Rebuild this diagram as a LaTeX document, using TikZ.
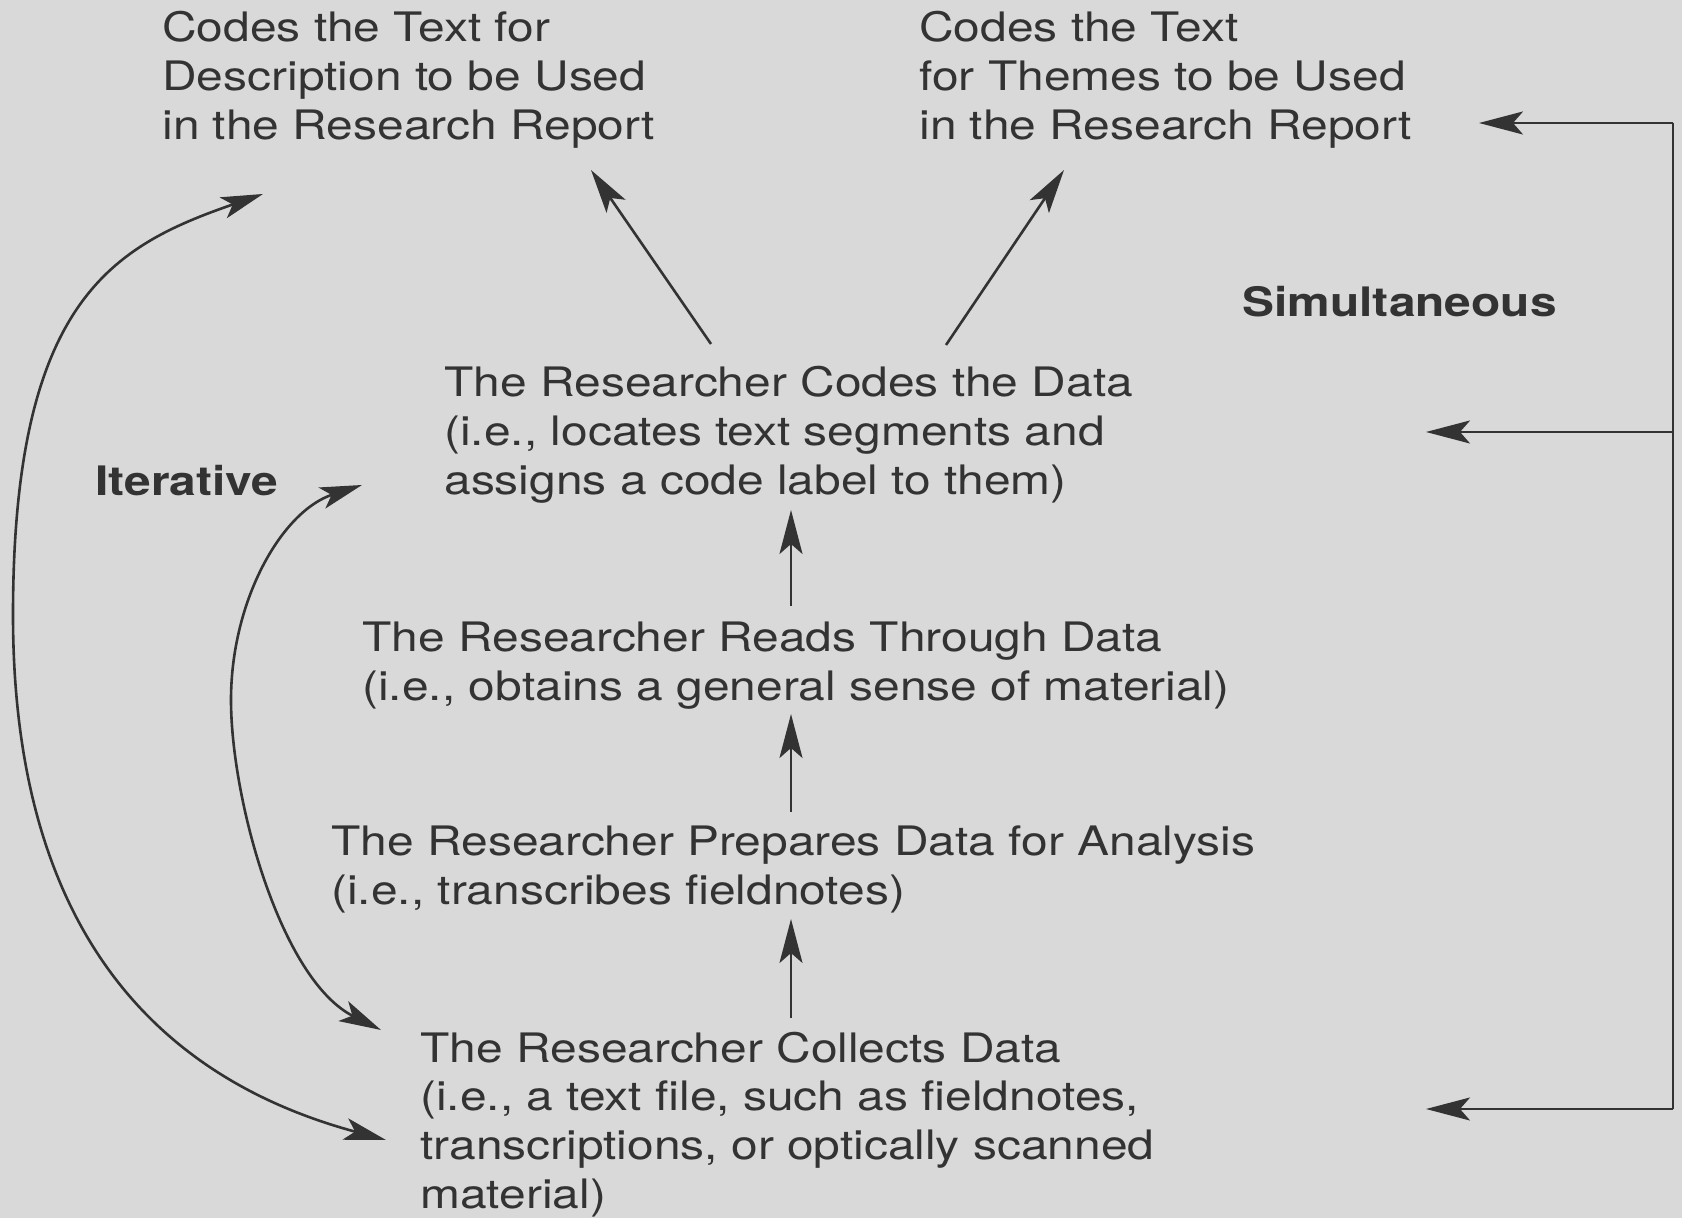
\documentclass[tikz,border=0pt]{standalone}
\usepackage{fontspec}
\setmainfont{TeX Gyre Heros}[FakeStretch=1.18]
\usetikzlibrary{arrows.meta}
\definecolor{bg}{HTML}{D9D9D9}
\definecolor{ink}{HTML}{333333}
\newcommand{\blk}[1]{\begin{tabular}[t]{@{}l@{}}#1\end{tabular}}
\begin{document}
\begin{tikzpicture}[x=0.5pt,y=-0.5pt,
  txt/.style={anchor=base west, inner sep=0pt, text=ink, font=\fontsize{20.3}{24.4}\selectfont},
  boldtxt/.style={txt, font=\fontsize{20.3}{24.4}\selectfont\bfseries},
  arr/.style={draw=ink, line width=1.3pt, -{Stealth[length=22pt,width=11.5pt,inset=5pt]}},
  darr/.style={draw=ink, line width=1.3pt, {Stealth[length=21pt,width=11pt,inset=5pt]}-{Stealth[length=21pt,width=11pt,inset=5pt]}},
  plain/.style={draw=ink, line width=1.3pt}]
\fill[bg] (0,0) rectangle (1682,1218);
\useasboundingbox (0,0) rectangle (1682,1218);

% text blocks
\node[txt] (tl) at (162,42) {\blk{Codes the Text for\\Description to be Used\\in the Research Report}};
\node[txt] (tr) at (919,42) {\blk{Codes the Text\\for Themes to be Used\\in the Research Report}};
\node[boldtxt] (sim) at (1242,317) {Simultaneous};
\node[boldtxt] (iter) at (95,496) {Iterative};
\node[txt] (codes) at (444,397) {\blk{The Researcher Codes the Data\\(i.e., locates text segments and\\assigns a code label to them)}};
\node[txt] (reads) at (362,652) {\blk{The Researcher Reads Through Data\\(i.e., obtains a general sense of material)}};
\node[txt] (prep) at (331,856) {\blk{The Researcher Prepares Data for Analysis\\(i.e., transcribes fieldnotes)}};
\node[txt] (coll) at (420,1062) {\blk{The Researcher Collects Data\\(i.e., a text file, such as fieldnotes,\\transcriptions, or optically scanned\\material)}};

% connector end points
\coordinate (codesTL) at (711,344);
\coordinate (tlIn) at (591,170);
\coordinate (codesTR) at (946,345);
\coordinate (trIn) at (1064,170);
\coordinate (codesIn) at (791,510);
\coordinate (readsOut) at (791,606);
\coordinate (readsIn) at (791,714);
\coordinate (prepOut) at (791,812);
\coordinate (prepIn) at (791,919);
\coordinate (collOut) at (791,1018);
\coordinate (rtTop) at (1673,123);
\coordinate (rtMid) at (1673,432);
\coordinate (rtBot) at (1673,1109);
\coordinate (trSide) at (1479,123);
\coordinate (codesSide) at (1426,432);
\coordinate (collSide) at (1426,1109);
\coordinate (oTop) at (263,194);
\coordinate (oBot) at (386,1140);
\coordinate (oMid) at (13,615);
\coordinate (iTop) at (362,485);
\coordinate (iBot) at (381,1030);
\coordinate (iMid) at (231,700);

% straight arrows
\draw[arr] (codesTL) -- (tlIn);
\draw[arr] (codesTR) -- (trIn);
\draw[arr] (readsOut) -- (codesIn);
\draw[arr] (prepOut) -- (readsIn);
\draw[arr] (collOut) -- (prepIn);

% simultaneous bracket
\draw[plain] (rtTop) -- (rtBot);
\draw[arr] (rtTop) -- (trSide);
\draw[arr] (rtMid) -- (codesSide);
\draw[arr] (rtBot) -- (collSide);

% iterative curves
\draw[darr] (oTop) .. controls (113,246) and (13,300) .. (oMid)
  .. controls (13,960) and (186,1086) .. (oBot);
\draw[darr] (iTop) .. controls (282,511) and (231,600) .. (iMid)
  .. controls (231,800) and (281,980) .. (iBot);
\end{tikzpicture}
\end{document}
